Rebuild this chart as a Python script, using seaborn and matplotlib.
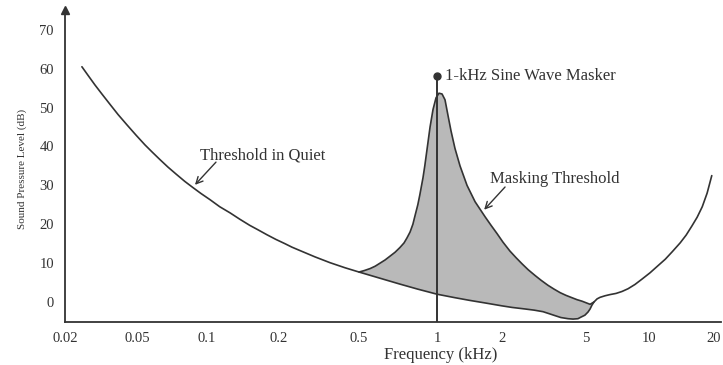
import numpy as np
import matplotlib
matplotlib.use("Agg")
import matplotlib.pyplot as plt
import seaborn as sns

# threshold in quiet (kHz, dB SPL)
quiet_khz = [0.0248, 0.0268, 0.0293, 0.0321, 0.0355, 0.0393, 0.0441, 0.0494, 0.0541,
             0.0580, 0.0628, 0.0679, 0.0736, 0.0803, 0.0871, 0.0942, 0.103, 0.113,
             0.125, 0.137, 0.151, 0.163, 0.178, 0.194, 0.214, 0.232, 0.255, 0.302,
             0.359, 0.426, 0.5, 0.603, 0.719, 0.843, 1.0, 1.211, 1.42, 1.69, 2.0,
             2.23, 2.57, 2.84, 3.13, 3.34, 3.56, 3.80, 4.11, 4.34, 4.58, 4.73, 4.94,
             5.11, 5.23, 5.34, 5.46, 5.65, 5.84, 6.17, 6.51, 6.96, 7.43, 7.94, 8.57,
             9.27, 10.1, 10.8, 11.7, 12.5, 13.5, 14.3, 15.1, 15.9, 16.7, 17.5, 18.3]
quiet_db = [60.5, 58.3, 55.8, 53.4, 50.8, 48.2, 45.5, 42.9, 40.4,
            38.6, 36.6, 34.7, 32.9, 31.0, 29.4, 27.9, 26.3, 24.5,
            22.9, 21.3, 19.7, 18.6, 17.3, 16.1, 15.0, 14.1, 13.2, 11.6,
            10.1, 8.8, 7.7, 6.1, 4.6, 3.3, 2.0, 1.1, 0.4, -0.3, -1.0,
            -1.4, -1.8, -2.1, -2.5, -3.0, -3.5, -4.0, -4.3, -4.4, -4.3, -3.9, -3.4,
            -2.6, -1.8, -0.8, 0.0, 0.8, 1.2, 1.6, 1.9, 2.2, 2.7, 3.4, 4.5,
            5.9, 7.5, 9.1, 11.0, 12.9, 15.2, 17.2, 19.5, 21.8, 24.5, 28.0, 32.5]

# masking threshold produced by the 1 kHz tone
mask_khz = [0.5, 0.525, 0.552, 0.577, 0.603, 0.630, 0.659, 0.689, 0.719, 0.746, 0.766,
            0.787, 0.807, 0.821, 0.843, 0.858, 0.883, 0.897, 0.914, 0.940, 0.965,
            0.991, 1.021, 1.055, 1.089, 1.124, 1.161, 1.211, 1.278, 1.377, 1.50,
            1.67, 1.78, 1.896, 2.02, 2.18, 2.33, 2.49, 2.66, 2.87, 3.06, 3.30,
            3.53, 3.77, 4.02, 4.29, 4.53, 4.79, 5.23, 5.46]
mask_db = [7.7, 8.1, 8.6, 9.2, 10.0, 10.8, 11.8, 12.8, 14.0, 15.2, 16.5,
           18.0, 20.0, 22.0, 25.0, 27.5, 32.0, 35.0, 39.0, 45.0, 49.5,
           52.5, 53.7, 53.5, 52.0, 48.0, 44.0, 39.5, 35.0, 30.0, 25.8,
           21.9, 19.7, 17.6, 15.4, 13.1, 11.4, 9.8, 8.3, 6.8, 5.6, 4.3,
           3.3, 2.4, 1.7, 1.1, 0.6, 0.2, -0.6, 0.0]

masker_khz = 1.0
masker_db = 58.2

freq_ticks = [0.02, 0.05, 0.1, 0.2, 0.5, 1, 2, 5, 10, 20]
freq_labels = ["0.02", "0.05", "0.1", "0.2", "0.5", "1", "2", "5", "10", "20"]
db_ticks = [0, 10, 20, 30, 40, 50, 60, 70]

# the drawn frequency axis is only roughly logarithmic: place each tick where it sits
axis_knots = [0.0, 0.1098, 0.2165, 0.3262, 0.4482, 0.5671, 0.6662, 0.7942, 0.8902, 1.0]
log_ticks = np.log10(freq_ticks)


def fwd(x):
    x = np.clip(np.asarray(x, dtype=float), 1e-6, None)
    return np.interp(np.log10(x), log_ticks, axis_knots)


def inv(p):
    return 10 ** np.interp(np.asarray(p, dtype=float), axis_knots, log_ticks)


sns.set_style("white")
plt.rcParams["font.family"] = ["Liberation Serif", "DejaVu Serif"]
ink = "#333333"

fig = plt.figure(figsize=(7.23, 3.65), dpi=100)
ax = fig.add_axes([65 / 723, 43 / 365, 656 / 723, 312 / 365])
ax.set_xscale("function", functions=(fwd, inv))
ax.set_xlim(0.02, 20)
ax.set_ylim(-5.15, 75.1)

# shaded masked region between masking threshold and threshold in quiet
q = np.array(quiet_khz)
sel = (q >= 0.5) & (q <= 5.46)
poly_x = np.r_[mask_khz, q[sel][::-1]]
poly_y = np.r_[mask_db, np.array(quiet_db)[sel][::-1]]
ax.fill(poly_x, poly_y, facecolor="#b9b9b9", edgecolor="none", zorder=1)

sns.lineplot(x=quiet_khz, y=quiet_db, ax=ax, color=ink, lw=1.2, estimator=None, zorder=3)
sns.lineplot(x=mask_khz, y=mask_db, ax=ax, color=ink, lw=1.2, estimator=None, zorder=3)

ax.vlines(masker_khz, -5.15, masker_db, color=ink, lw=1.4, zorder=4)
ax.plot([masker_khz], [masker_db], "o", color=ink, ms=5, zorder=5)

ax.text(1.089, masker_db, "1-kHz Sine Wave Masker", fontsize=12, color=ink, va="center", ha="left")
ax.text(0.0933, 37.8, "Threshold in Quiet", fontsize=12, color=ink, va="center", ha="left")
ax.annotate("", xy=(0.0871, 29.6), xytext=(0.111, 36.5),
            arrowprops=dict(arrowstyle="->", color=ink, lw=1, mutation_scale=12))
ax.text(1.76, 31.6, "Masking Threshold", fontsize=12, color=ink, va="center", ha="left")
ax.annotate("", xy=(1.62, 23.2), xytext=(2.11, 30.1),
            arrowprops=dict(arrowstyle="->", color=ink, lw=1, mutation_scale=12))

ax.set_xticks(freq_ticks)
ax.set_xticklabels(freq_labels)
ax.get_xticklabels()[-1].set_horizontalalignment("right")
ax.set_yticks(db_ticks)
ax.minorticks_off()
ax.tick_params(axis="x", direction="inout", length=7, width=1, color=ink,
               labelsize=10.5, labelcolor=ink, pad=4)
ax.tick_params(axis="y", direction="inout", length=10, width=1, color=ink,
               labelsize=10.5, labelcolor=ink, pad=3)

for side in ["top", "right"]:
    ax.spines[side].set_visible(False)
for side in ["left", "bottom"]:
    ax.spines[side].set_color(ink)
    ax.spines[side].set_linewidth(1.3)
ax.plot(0, 1, "^", color=ink, ms=6, transform=ax.transAxes, clip_on=False)

ax.set_xlabel("Frequency (kHz)", fontsize=12, color=ink)
ax.xaxis.set_label_coords(0.572, -0.08)
ax.set_ylabel("Sound Pressure Level (dB)", fontsize=8, color=ink)
ax.yaxis.set_label_coords(-0.058, 0.49)

fig.savefig("out.png", dpi=100)
